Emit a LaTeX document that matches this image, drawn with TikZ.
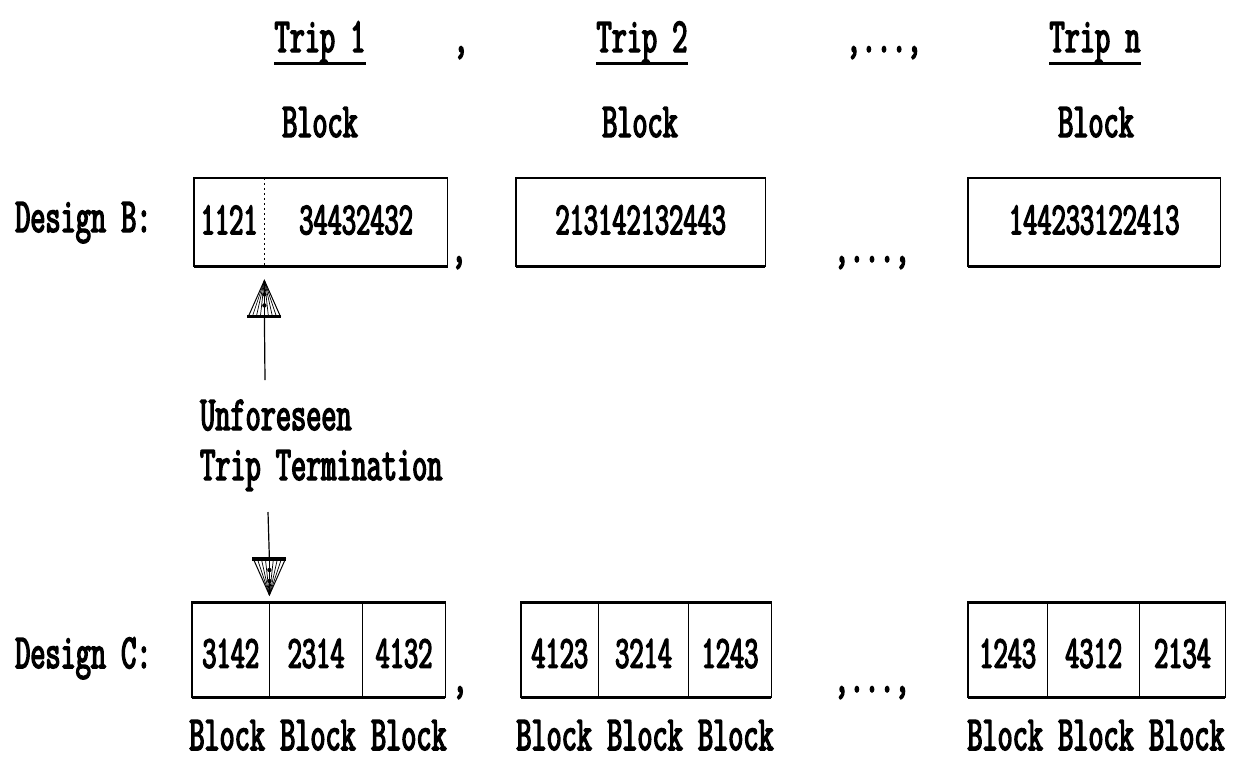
\documentclass[tikz,border=0pt]{standalone}
\usepackage{fontspec}
\newfontfamily\dm{Latin Modern Mono}[FakeStretch=0.6, FakeBold=3]
\begin{document}
\begin{tikzpicture}[x=1pt,y=-1pt,
  lab/.style={font=\dm\fontsize{49}{49}\selectfont, inner sep=0pt, anchor=base},
  num/.style={font=\dm\fontsize{46}{46}\selectfont, inner sep=0pt, anchor=base},
  cellB/.style={draw=none, inner sep=0pt, minimum height=88pt, anchor=north west},
  cellC/.style={draw=none, inner sep=0pt, minimum height=95pt, anchor=north west},
  side/.style={line width=1.3pt},
  edge/.style={line width=3pt},
  ul/.style={line width=3pt},
  hatchtri/.pic={
    \draw[line width=1pt] (0,0) -- (-16,36) -- (16,36) -- cycle;
    \foreach \x in {-12,-8,-4,0,4,8,12} \draw[line width=0.7pt] (0,0) -- (\x,36);
    \draw[line width=3.5pt] (-17,36) -- (17,36);
    \fill (0,14) circle (2.2) (0,25) circle (2.2);
  }]
\useasboundingbox (0,0) rectangle (1236,761);

% trip headings
\node[lab] (t1) at (320,52) {Trip 1};
\node[lab] (s1) at (461,52) {,};
\node[lab] (t2) at (642,52) {Trip 2};
\node[lab] (s2) at (884,52) {,...,};
\node[lab] (tn) at (1095,52) {Trip n};
\foreach \t in {t1,t2,tn}
  \draw[ul] ([yshift=-11pt]\t.base west) -- ([yshift=-11pt]\t.base east);

\node[lab] (k1) at (320,137) {Block};
\node[lab] (k2) at (640,137) {Block};
\node[lab] (k3) at (1096,137) {Block};

% design B
\node[lab, anchor=base west] (db) at (15,232) {Design B:};

\node[cellB, minimum width=70pt]  (b1a) at (194,178) {};
\node[cellB, minimum width=183pt] (b1b) at (b1a.north east) {};
\node[cellB, minimum width=249pt] (b2)  at (516,178) {};
\node[cellB, minimum width=252pt] (b3)  at (968,178) {};

\draw[side] (b1a.north west) rectangle (b1b.south east);
\draw[edge] (b1a.south west) -- (b1b.south east);
\draw[line width=1.5pt, dash pattern=on 2pt off 3pt] (b1a.north east) -- (b1a.south east);
\foreach \b in {b2,b3}{
  \draw[side] (\b.north west) rectangle (\b.south east);
  \draw[edge] (\b.south west) -- (\b.south east);
}

\node[num] (nb1a) at ([yshift=-12pt]b1a.center) {1121};
\node[num] (nb1b) at ([yshift=-12pt]b1b.center) {34432432};
\node[num] (nb2)  at ([yshift=-12pt]b2.center) {213142132443};
\node[num] (nb3)  at ([yshift=-12pt]b3.center) {144233122413};

\node[lab] (cb1) at (459,262) {,};
\node[lab] (cb2) at (872,262) {,...,};

% termination marker, upper arrow
\coordinate (upTip) at ([yshift=-14pt]b1a.south east);
\coordinate (upBase) at ([yshift=-36pt]upTip);
\coordinate (upEnd) at (265,380);
\pic at (upTip) {hatchtri};
\draw[line width=1.2pt] (upBase) -- (upEnd);

\node[lab, anchor=base west] (uf) at (200,430) {Unforeseen};
\node[lab, anchor=base west] (tt) at (200,480) {Trip Termination};

% design C
\node[lab, anchor=base west] (dc) at (15,668) {Design C:};

\node[cellC, minimum width=77pt] (c1a) at (192,602) {};
\node[cellC, minimum width=93pt] (c1b) at (c1a.north east) {};
\node[cellC, minimum width=82pt] (c1c) at (c1b.north east) {};
\node[cellC, minimum width=77pt] (c2a) at (521,602) {};
\node[cellC, minimum width=90pt] (c2b) at (c2a.north east) {};
\node[cellC, minimum width=82pt] (c2c) at (c2b.north east) {};
\node[cellC, minimum width=79pt] (c3a) at (968,602) {};
\node[cellC, minimum width=92pt] (c3b) at (c3a.north east) {};
\node[cellC, minimum width=85pt] (c3c) at (c3b.north east) {};

\foreach \r in {c1,c2,c3}{
  \draw[side] (\r a.north west) rectangle (\r c.south east);
  \draw[side] (\r a.north east) -- (\r a.south east);
  \draw[side] (\r b.north east) -- (\r b.south east);
  \draw[edge] (\r a.north west) -- (\r c.north east);
  \draw[edge] (\r a.south west) -- (\r c.south east);
}

\node[num] (n1a) at ([yshift=-18pt]c1a.center) {3142};
\node[num] (n1b) at ([yshift=-18pt]c1b.center) {2314};
\node[num] (n1c) at ([yshift=-18pt]c1c.center) {4132};
\node[num] (n2a) at ([yshift=-18pt]c2a.center) {4123};
\node[num] (n2b) at ([yshift=-18pt]c2b.center) {3214};
\node[num] (n2c) at ([yshift=-18pt]c2c.center) {1243};
\node[num] (n3a) at ([yshift=-18pt]c3a.center) {1243};
\node[num] (n3b) at ([yshift=-18pt]c3b.center) {4312};
\node[num] (n3c) at ([yshift=-18pt]c3c.center) {2134};

\node[lab] (cc1) at (460,692) {,};
\node[lab] (cc2) at (872,692) {,...,};

% termination marker, lower arrow
\coordinate (dnTip) at ([yshift=7pt]c1a.north east);
\coordinate (dnBase) at ([yshift=36pt]dnTip);
\coordinate (dnStart) at (268,512);
\draw[line width=1.2pt] (dnStart) -- (dnBase);
\pic[yscale=-1] at (dnTip) {hatchtri};

% block labels below design C
\node[lab] (bl1) at (318,750) {Block Block Block};
\node[lab] (bl2) at (645,750) {Block Block Block};
\node[lab] (bl3) at (1096,750) {Block Block Block};
\end{tikzpicture}
\end{document}
